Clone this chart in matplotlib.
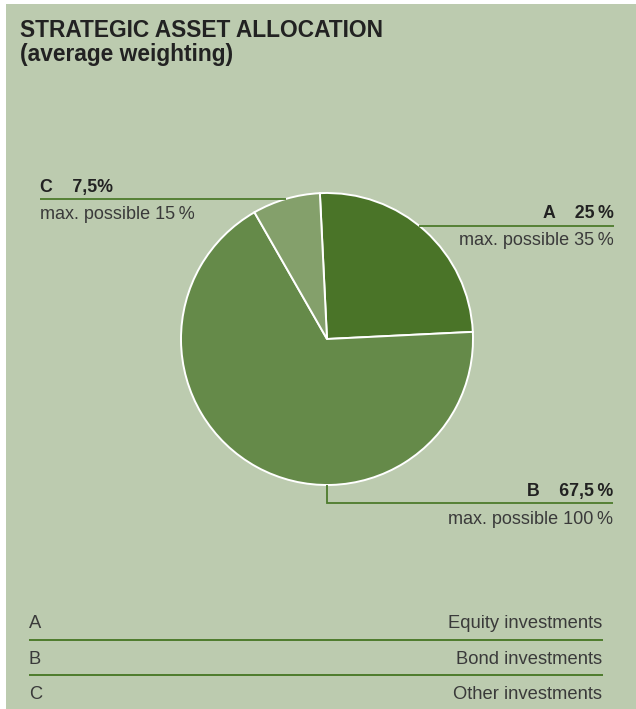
import numpy as np
import matplotlib
matplotlib.use("Agg")
import matplotlib.pyplot as plt
from matplotlib.patches import Rectangle

# ---- data ----
codes = ["A", "B", "C"]
shares = [25.0, 67.5, 7.5]
share_labels = ["25\u2009%", "67,5\u2009%", "7,5%"]
max_possible = ["35\u2009%", "100\u2009%", "15\u2009%"]
categories = ["Equity investments", "Bond investments", "Other investments"]
title_lines = ["STRATEGIC ASSET ALLOCATION", "(average weighting)"]

# ---- style ----
W, H = 636, 709
BG = "#bccbaf"
COLORS = ["#4a7428", "#658a49", "#84a06b"]
LINE = "#4d7b2c"
TXT = "#3a3a3a"
BOLD = "#222222"
FAM = ["Liberation Sans", "DejaVu Sans"]

fig = plt.figure(figsize=(W / 100, H / 100), dpi=100)
fig.patch.set_facecolor("white")
ax = fig.add_axes([0, 0, 1, 1])
ax.set_xlim(0, W)
ax.set_ylim(0, H)
ax.set_aspect("equal")
ax.axis("off")

def Y(y):
    return H - y

ax.add_patch(Rectangle((6, 0), W - 6, H - 4, facecolor=BG, edgecolor="none", zorder=0))

# title
ax.text(20, Y(37), title_lines[0], fontsize=16.4, fontweight="bold", color=BOLD,
        family=FAM, va="baseline", ha="left")
ax.text(20, Y(61), title_lines[1], fontsize=16.4, fontweight="bold", color=BOLD,
        family=FAM, va="baseline", ha="left")

# pie
cx, cy, r = 327, 339, 146
ax.pie(shares, colors=COLORS, startangle=92.8, counterclock=False,
       center=(cx, Y(cy)), radius=r, frame=True,
       wedgeprops=dict(edgecolor="white", linewidth=1.4))
ax.set_xlim(0, W)
ax.set_ylim(0, H)
ax.axis("off")

def edge_x(y, side):
    dx = np.sqrt(r ** 2 - (cy - y) ** 2)
    return cx + side * dx

lw = 1.3
LBL = 12.8
SUB = 13.0
# C leader
yC = 199
ax.plot([40, edge_x(yC, -1)], [Y(yC), Y(yC)], color=LINE, lw=lw, solid_capstyle="butt")
ax.text(40, Y(192), f"{codes[2]}    {share_labels[2]}", fontsize=LBL, fontweight="bold",
        color=BOLD, family=FAM, va="baseline", ha="left")
ax.text(40, Y(219), f"max. possible {max_possible[2]}", fontsize=SUB, color=TXT,
        family=FAM, va="baseline", ha="left")

# A leader
yA = 226
ax.plot([edge_x(yA, 1), 614], [Y(yA), Y(yA)], color=LINE, lw=lw, solid_capstyle="butt")
ax.text(614, Y(218), f"{codes[0]}    {share_labels[0]}", fontsize=LBL, fontweight="bold",
        color=BOLD, family=FAM, va="baseline", ha="right")
ax.text(614, Y(245), f"max. possible {max_possible[0]}", fontsize=SUB, color=TXT,
        family=FAM, va="baseline", ha="right")

# B leader
yB = 503
ax.plot([cx, cx, 613], [Y(cy + r), Y(yB), Y(yB)], color=LINE, lw=lw,
        solid_capstyle="butt", solid_joinstyle="miter")
ax.text(613, Y(496), f"{codes[1]}    {share_labels[1]}", fontsize=LBL, fontweight="bold",
        color=BOLD, family=FAM, va="baseline", ha="right")
ax.text(613, Y(524), f"max. possible {max_possible[1]}", fontsize=SUB, color=TXT,
        family=FAM, va="baseline", ha="right")

# legend table
base = [628, 664, 699]
for i, (c, lab) in enumerate(zip(codes, categories)):
    ax.text(29, Y(base[i]), c, fontsize=13.2, color=TXT, family=FAM,
            va="baseline", ha="left")
    ax.text(602, Y(base[i]), lab, fontsize=13.2, color=TXT, family=FAM,
            va="baseline", ha="right")
for ly in [640, 675]:
    ax.plot([29, 603], [Y(ly), Y(ly)], color=LINE, lw=1.4, solid_capstyle="butt")

fig.savefig("out.png", dpi=100, facecolor=fig.get_facecolor())
